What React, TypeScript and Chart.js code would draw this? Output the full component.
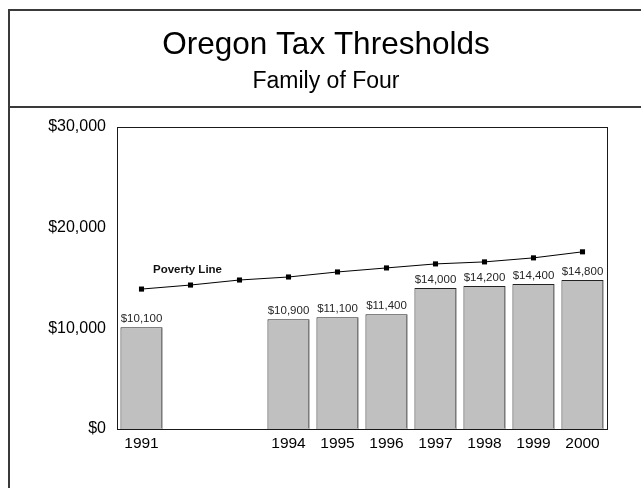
import React, { useEffect, useRef } from "react";
import { Chart, registerables } from "chart.js";

Chart.register(...registerables);

const categories = ["1991", "1992", "1993", "1994", "1995", "1996", "1997", "1998", "1999", "2000"];
const xTickLabels = ["1991", "", "", "1994", "1995", "1996", "1997", "1998", "1999", "2000"];
const thresholdValues: (number | null)[] = [10100, null, null, 10900, 11100, 11400, 14000, 14200, 14400, 14800];
const povertyValues = [13900, 14300, 14800, 15100, 15600, 16000, 16400, 16600, 17000, 17600];
const yTickLabels = ["$0", "$10,000", "$20,000", "$30,000"];
const titleText = "Oregon Tax Thresholds";
const subtitleText = "Family of Four";
const lineLabel = "Poverty Line";

const FONT = "Arial, 'Liberation Sans', Helvetica, sans-serif";

const fmt = (v: number) => "$" + v.toLocaleString("en-US");

const framePlugin = {
  id: "frame",
  beforeDraw(chart: any) {
    const ctx = chart.ctx;
    ctx.save();
    ctx.fillStyle = "#ffffff";
    ctx.fillRect(0, 0, chart.width, chart.height);
    ctx.strokeStyle = "#3a3a3a";
    ctx.lineWidth = 2;
    ctx.beginPath();
    ctx.moveTo(9, chart.height + 2);
    ctx.lineTo(9, 10);
    ctx.lineTo(chart.width + 2, 10);
    ctx.moveTo(9, 107);
    ctx.lineTo(chart.width + 2, 107);
    ctx.stroke();
    ctx.restore();
  },
  afterDraw(chart: any) {
    const { left, right, top, bottom } = chart.chartArea;
    const ctx = chart.ctx;
    ctx.save();
    ctx.strokeStyle = "#1a1a1a";
    ctx.lineWidth = 1;
    ctx.strokeRect(Math.round(left) + 0.5, Math.round(top) + 0.5, Math.round(right - left), Math.round(bottom - top));
    ctx.restore();
  },
};

const labelPlugin = {
  id: "valueLabels",
  afterDatasetsDraw(chart: any) {
    const ctx = chart.ctx;
    ctx.save();
    const barMeta = chart.getDatasetMeta(0);
    ctx.strokeStyle = "#7a7a7a";
    ctx.lineWidth = 1;
    barMeta.data.forEach((el: any, i: number) => {
      if (thresholdValues[i] == null) return;
      const x = Math.round(el.x + el.width / 2) - 1.5;
      ctx.beginPath();
      ctx.moveTo(x, el.y + 1);
      ctx.lineTo(x, el.base - 1);
      ctx.stroke();
    });
    ctx.font = `11.5px ${FONT}`;
    ctx.fillStyle = "#262626";
    ctx.textAlign = "center";
    ctx.textBaseline = "alphabetic";
    barMeta.data.forEach((el: any, i: number) => {
      const v = thresholdValues[i];
      if (v == null) return;
      ctx.fillText(fmt(v), el.x, el.y - 5);
    });
    const lineMeta = chart.getDatasetMeta(1);
    const p = lineMeta.data[1];
    if (p) {
      ctx.font = `bold 11.5px ${FONT}`;
      ctx.fillStyle = "#111";
      ctx.textBaseline = "middle";
      ctx.fillText(lineLabel, p.x - 3, p.y - 15);
    }
    ctx.restore();
  },
};

export default function App() {
  const ref = useRef<HTMLCanvasElement | null>(null);
  useEffect(() => {
    if (!ref.current) return;
    const chart = new Chart(ref.current, {
      type: "bar",
      data: {
        labels: categories,
        datasets: [
          {
            type: "bar",
            label: "Tax Threshold",
            data: thresholdValues as any,
            backgroundColor: "#c0c0c0",
            borderColor: "#222222",
            borderWidth: 1,
            barPercentage: 0.86,
            categoryPercentage: 1,
            order: 2,
          },
          {
            type: "line",
            label: lineLabel,
            data: povertyValues,
            borderColor: "#000000",
            borderWidth: 1,
            backgroundColor: "#000000",
            pointStyle: "rect",
            pointRadius: 3.6,
            pointBorderWidth: 0,
            tension: 0,
            fill: false,
            order: 1,
          } as any,
        ],
      },
      options: {
        responsive: false,
        animation: false,
        layout: { padding: { left: 45, right: 34, top: 0, bottom: 29 } },
        plugins: {
          legend: { display: false },
          tooltip: { enabled: false },
          title: {
            display: true,
            text: titleText,
            color: "#000",
            font: { family: FONT, size: 31.5, weight: "normal", lineHeight: 1.2 },
            padding: { top: 26.6, bottom: 0 },
          },
          subtitle: {
            display: true,
            text: subtitleText,
            color: "#000",
            font: { family: FONT, size: 23, weight: "normal", lineHeight: 1.2 },
            padding: { top: 3.6, bottom: 31.4 },
          },
        },
        scales: {
          x: {
            grid: { display: false, drawTicks: false },
            border: { display: true, color: "#1a1a1a", width: 1 },
            afterFit: (axis: any) => {
              axis.height = 30;
            },
            ticks: {
              autoSkip: false,
              maxRotation: 0,
              padding: 5,
              color: "#000",
              font: { family: FONT, size: 15.5 },
              callback: (_v: any, i: number) => xTickLabels[i],
            },
          },
          y: {
            min: 0,
            max: 30000,
            grid: { display: false, drawTicks: false },
            border: { display: true, color: "#1a1a1a", width: 1 },
            afterFit: (axis: any) => {
              axis.width = 72;
            },
            ticks: {
              stepSize: 10000,
              padding: 11,
              color: "#000",
              font: { family: FONT, size: 16 },
              callback: (_v: any, i: number) => yTickLabels[i],
            },
          },
        },
      },
      plugins: [framePlugin, labelPlugin],
    });
    return () => chart.destroy();
  }, []);
  return (
    <div style={{ position: "fixed", left: 0, top: 0, width: 641, height: 488, background: "#fff" }}>
      <canvas ref={ref} width={641} height={488} style={{ display: "block" }} />
    </div>
  );
}
